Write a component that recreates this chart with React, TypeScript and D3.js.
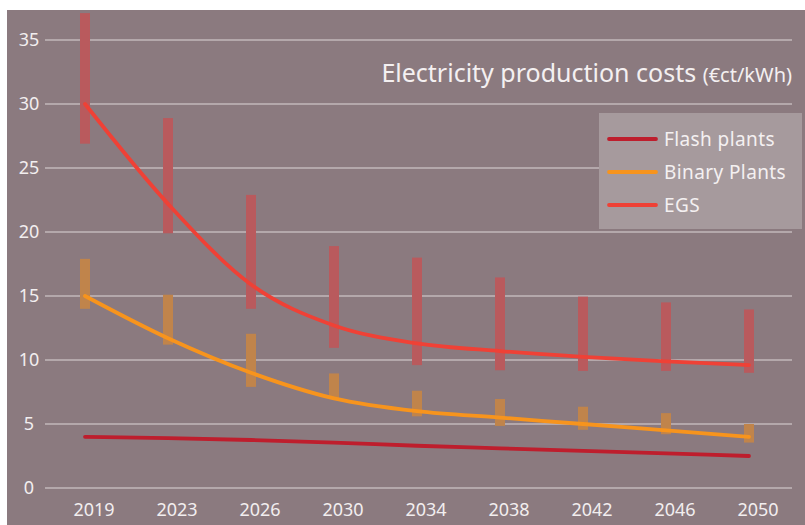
import { useEffect, useRef } from "react"
import * as d3 from "d3"

// values (€ct/kWh)
const years = ["2019", "2023", "2026", "2030", "2034", "2038", "2042", "2046", "2050"]
const flash = [4.0, 3.9, 3.75, 3.55, 3.3, 3.1, 2.9, 2.7, 2.5]
const binary = [15, 11.7, 9.0, 7.0, 6.0, 5.5, 5.0, 4.5, 4.0]
const binaryLow = [14, 11.2, 7.9, 7.0, 5.6, 4.85, 4.55, 4.2, 3.55]
const binaryHigh = [17.9, 15.1, 12.05, 8.95, 7.6, 6.95, 6.35, 5.85, 5.0]
const egs = [30, 22.2, 15.9, 12.7, 11.3, 10.7, 10.25, 9.9, 9.6]
const egsLow = [26.9, 19.9, 14.0, 10.95, 9.6, 9.2, 9.15, 9.15, 9.0]
const egsHigh = [37.1, 28.9, 22.9, 18.9, 18.0, 16.45, 14.95, 14.5, 13.95]
const yTicks = [0, 5, 10, 15, 20, 25, 30, 35]

const BG = "#8b7a7f"
const FLASH = "#be1e2d"
const BINARY = "#f7941d"
const EGS = "#ef4136"
const FONT = "'Noto Sans', sans-serif"

export default function App() {
  const ref = useRef<SVGSVGElement>(null)

  useEffect(() => {
    if (!ref.current) return
    const svg = d3.select(ref.current)
    svg.selectAll("*").remove()

    const W = 805
    const H = 525

    svg.append("rect").attr("x", 7).attr("y", 10).attr("width", W - 7).attr("height", H - 10).attr("fill", BG)

    const x = d3.scalePoint<string>().domain(years).range([85, 749])
    const y = d3.scaleLinear().domain([0, 35]).range([488, 40])

    // grid + y labels
    const grid = svg.append("g")
    grid
      .selectAll("line")
      .data(yTicks)
      .join("line")
      .attr("x1", 45)
      .attr("x2", 792)
      .attr("y1", (d) => y(d))
      .attr("y2", (d) => y(d))
      .attr("stroke", "#ddd5d7")
      .attr("stroke-width", 1.2)
    grid
      .selectAll("text")
      .data(yTicks)
      .join("text")
      .attr("x", 29)
      .attr("y", (d) => y(d))
      .attr("dy", "0.35em")
      .attr("text-anchor", "middle")
      .attr("font-family", FONT)
      .attr("font-size", 18)
      .attr("fill", "#f2eeef")
      .text((d) => d)

    svg
      .append("g")
      .selectAll("text")
      .data(years)
      .join("text")
      .attr("x", (d) => (x(d) ?? 0) + 9)
      .attr("y", 510)
      .attr("dy", "0.35em")
      .attr("text-anchor", "middle")
      .attr("font-family", FONT)
      .attr("font-size", 18)
      .attr("fill", "#f2eeef")
      .text((d) => d)

    // range bars
    const bw = 10
    const bars = (lo: number[], hi: number[], color: string) =>
      svg
        .append("g")
        .selectAll("rect")
        .data(years)
        .join("rect")
        .attr("x", (d) => (x(d) ?? 0) - bw / 2)
        .attr("width", bw)
        .attr("y", (_, i) => y(hi[i]))
        .attr("height", (_, i) => y(lo[i]) - y(hi[i]))
        .attr("fill", color)
    bars(egsLow, egsHigh, "#b95a5d")
    bars(binaryLow, binaryHigh, "#c0844b")

    // lines
    const line = (vals: number[], color: string) => {
      const gen = d3
        .line<string>()
        .x((d) => x(d) ?? 0)
        .y((_, i) => y(vals[i]))
        .curve(d3.curveMonotoneX)
      svg
        .append("path")
        .attr("d", gen(years))
        .attr("fill", "none")
        .attr("stroke", color)
        .attr("stroke-width", 3.8)
        .attr("stroke-linecap", "round")
    }
    line(egs, EGS)
    line(binary, BINARY)
    line(flash, FLASH)

    // title
    const title = svg
      .append("text")
      .attr("x", 792)
      .attr("y", 82)
      .attr("text-anchor", "end")
      .attr("font-family", FONT)
      .attr("fill", "#f4f0f1")
    title.append("tspan").attr("font-size", 25).text("Electricity production costs ")
    title.append("tspan").attr("font-size", 20).text("(€ct/kWh)")

    // legend
    const legend = svg.append("g")
    legend.append("rect").attr("x", 599).attr("y", 113).attr("width", 203).attr("height", 116).attr("fill", "#a69a9d")
    const items: [string, string][] = [
      ["Flash plants", FLASH],
      ["Binary Plants", BINARY],
      ["EGS", EGS],
    ]
    items.forEach(([label, color], i) => {
      const cy = 139 + i * 33
      legend
        .append("line")
        .attr("x1", 609)
        .attr("x2", 656)
        .attr("y1", cy)
        .attr("y2", cy)
        .attr("stroke", color)
        .attr("stroke-width", 3.8)
        .attr("stroke-linecap", "round")
      legend
        .append("text")
        .attr("x", 664)
        .attr("y", cy)
        .attr("dy", "0.35em")
        .attr("font-family", FONT)
        .attr("font-size", 19)
        .attr("letter-spacing", 0.4)
        .attr("fill", "#f4f0f1")
        .text(label)
    })
  }, [])

  return (
    <svg
      ref={ref}
      width={805}
      height={525}
      style={{ position: "absolute", left: 0, top: 0, display: "block" }}
    />
  )
}
